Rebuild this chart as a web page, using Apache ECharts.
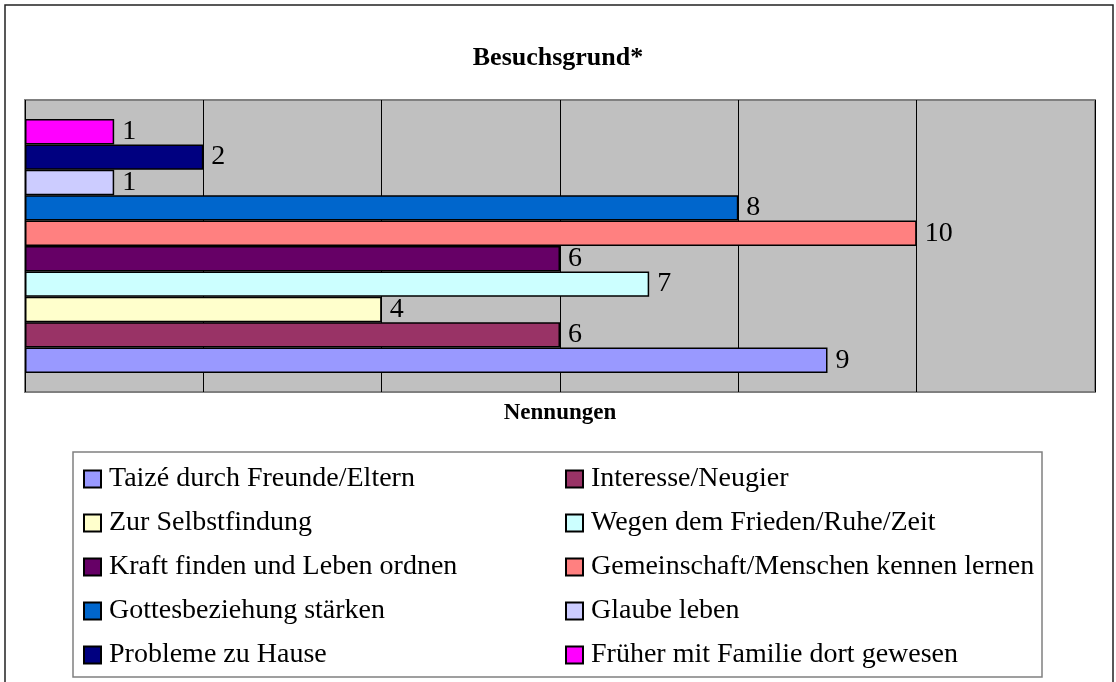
<!DOCTYPE html>
<html>
<head>
<meta charset="utf-8">
<script src="https://cdn.jsdelivr.net/npm/echarts@6/dist/echarts.min.js"></script>
<style>
  html, body { margin: 0; padding: 0; background: #fff; }
  #main { width: 1116px; height: 682px; }
</style>
</head>
<body>
<div id="main"></div>
<script>
  // reasons for the visit, in legend order (left column, right column, row by row)
  var reasons = [
    'Taizé durch Freunde/Eltern',
    'Interesse/Neugier',
    'Zur Selbstfindung',
    'Wegen dem Frieden/Ruhe/Zeit',
    'Kraft finden und Leben ordnen',
    'Gemeinschaft/Menschen kennen lernen',
    'Gottesbeziehung stärken',
    'Glaube leben',
    'Probleme zu Hause',
    'Früher mit Familie dort gewesen'
  ];
  var counts = [9, 6, 4, 7, 6, 10, 8, 1, 2, 1];
  var colors = ['#9999FF', '#993366', '#FFFFCC', '#CCFFFF', '#660066',
                '#FF8080', '#0066CC', '#CCCCFF', '#000080', '#FF00FF'];

  var serif = '"Liberation Serif", "Times New Roman", serif';
  var myChart = echarts.init(document.getElementById('main'));

  // first reason sits at the bottom of the stack, so feed the series in reverse
  var series = reasons.map(function (name, i) {
    return {
      name: name,
      type: 'bar',
      data: [counts[i]],
      barGap: '0%',
      barCategoryGap: '13%',
      itemStyle: {
        color: colors[i],
        borderColor: '#000',
        borderWidth: 1.5
      },
      label: {
        show: true,
        position: 'right',
        distance: 8,
        color: '#000',
        fontFamily: serif,
        fontSize: 28
      }
    };
  }).reverse();

  var legendBase = {
    orient: 'vertical',
    top: 465,
    padding: 0,
    itemWidth: 17,
    itemHeight: 17,
    itemGap: 16,
    icon: 'rect',
    selectedMode: false,
    textStyle: { fontFamily: serif, fontSize: 28, lineHeight: 28, color: '#000', padding: [0, 0, 0, 3] }
  };

  var option = {
    animation: false,
    backgroundColor: '#fff',
    title: {
      text: 'Besuchsgrund*',
      left: 'center',
      top: 40,
      textStyle: { fontFamily: serif, fontSize: 26, fontWeight: 'bold', color: '#000' }
    },
    legend: [
      Object.assign({}, legendBase, { left: 83, data: reasons.filter(function (n, i) { return i % 2 === 0; }) }),
      Object.assign({}, legendBase, { left: 565, data: reasons.filter(function (n, i) { return i % 2 === 1; }) })
    ],
    grid: {
      left: 25,
      right: 21,
      top: 100,
      bottom: 290,
      show: true,
      backgroundColor: '#C0C0C0',
      borderColor: '#808080',
      borderWidth: 2
    },
    xAxis: {
      type: 'value',
      min: 0,
      max: 12,
      interval: 2,
      name: 'Nennungen',
      nameLocation: 'middle',
      nameGap: 10,
      nameTextStyle: { fontFamily: serif, fontSize: 23, fontWeight: 'bold', color: '#000', verticalAlign: 'top' },
      axisLine: { show: false },
      axisTick: { show: false },
      axisLabel: { show: false },
      splitLine: { lineStyle: { color: '#000', width: 1 } }
    },
    yAxis: {
      type: 'category',
      data: [''],
      axisLine: { show: false },
      axisTick: { show: false },
      axisLabel: { show: false }
    },
    graphic: [
      {
        type: 'rect',
        shape: { x: 5, y: 5, width: 1108, height: 700 },
        style: { fill: null, stroke: '#222', lineWidth: 1.5 },
        silent: true
      },
      {
        type: 'rect',
        shape: { x: 73, y: 452, width: 969, height: 225 },
        style: { fill: null, stroke: '#808080', lineWidth: 1.5 },
        silent: true
      }
    ],
    series: series
  };
  myChart.setOption(option);
</script>
</body>
</html>
